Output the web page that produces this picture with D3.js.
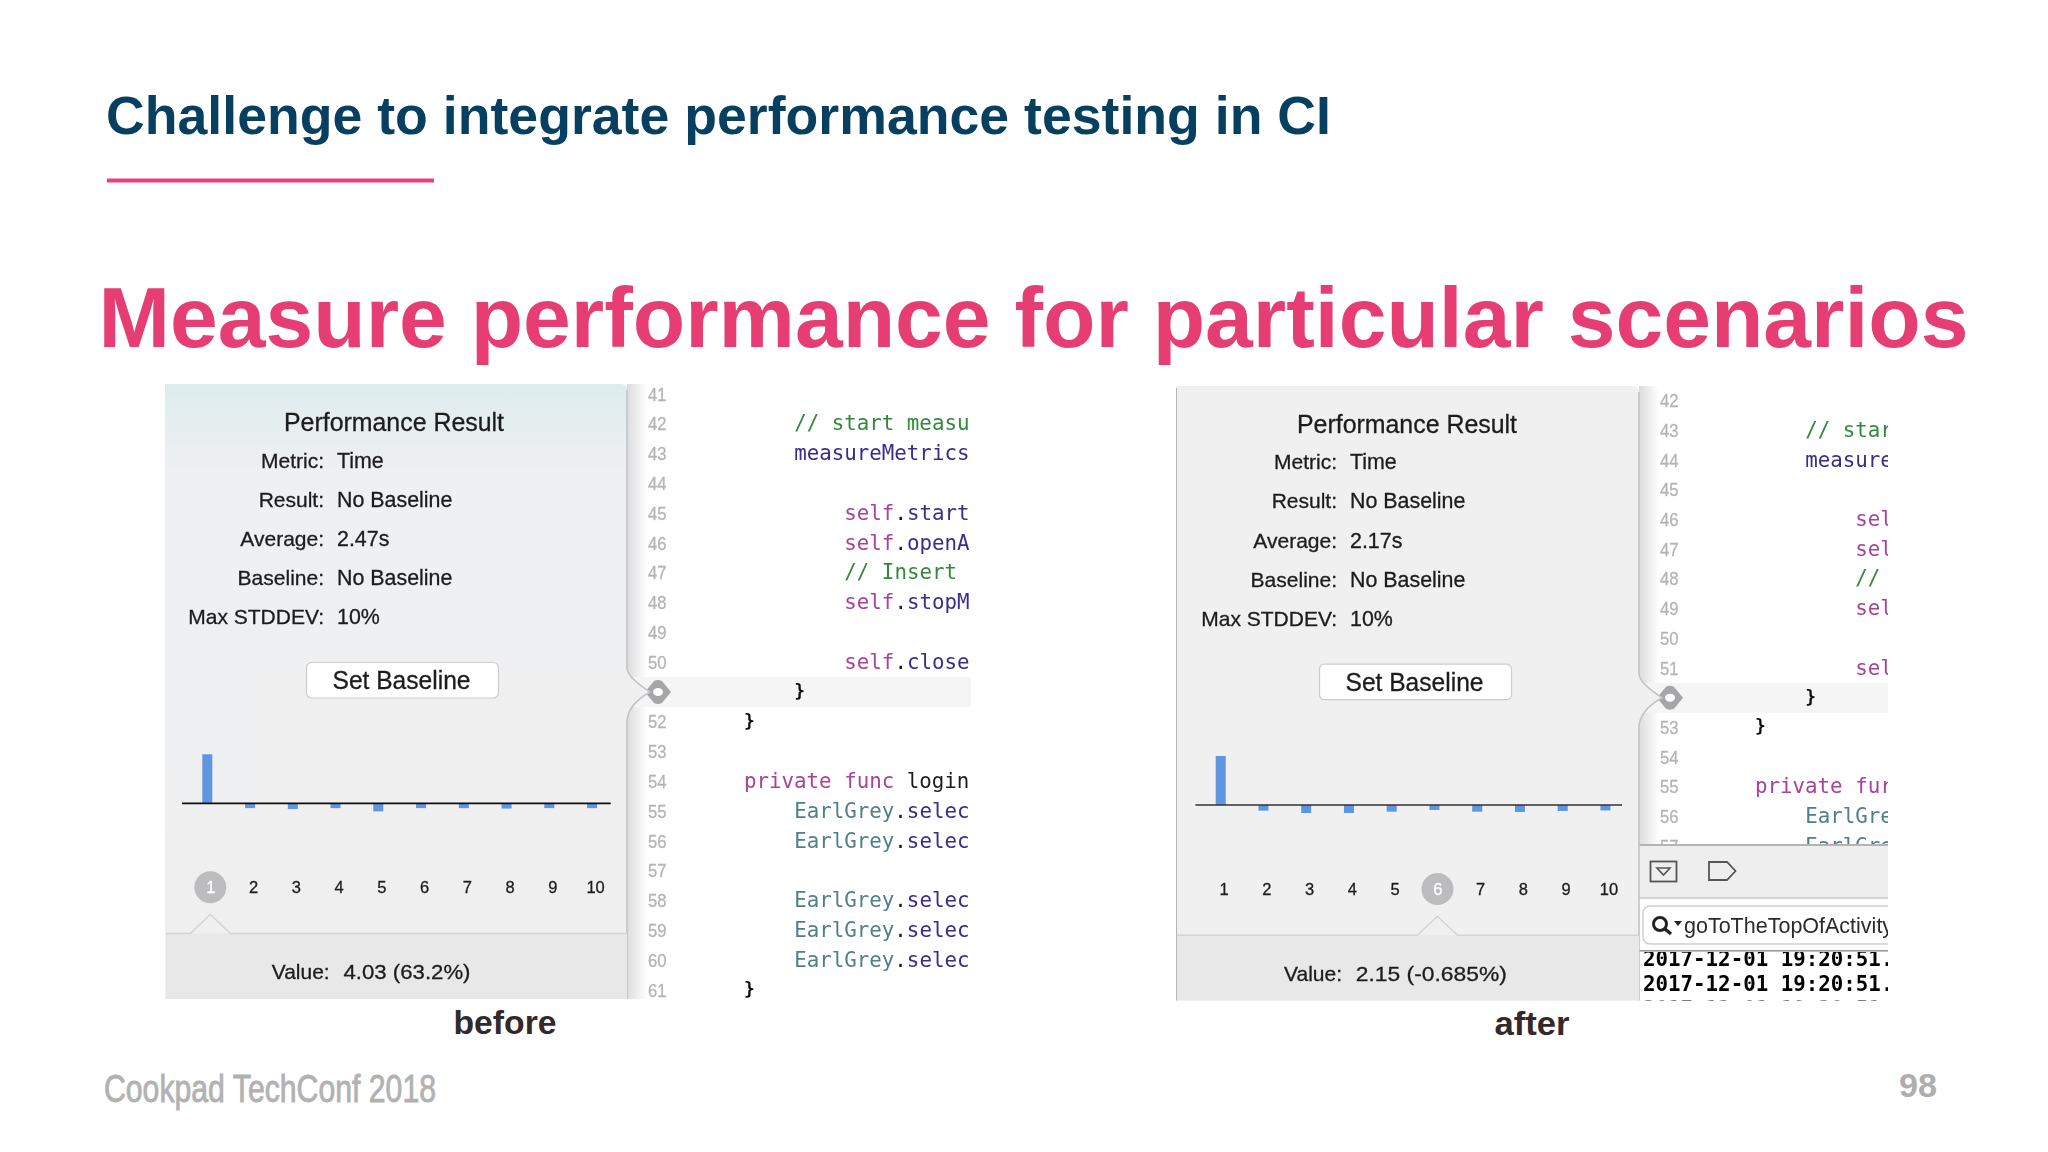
<!DOCTYPE html>
<html><head><meta charset="utf-8">
<script src="https://cdnjs.cloudflare.com/ajax/libs/d3/7.8.5/d3.min.js"></script>
<style>html,body{margin:0;padding:0;background:#fff;overflow:hidden}svg{display:block}</style>
</head><body><svg id="c" width="2048" height="1152" xmlns="http://www.w3.org/2000/svg"></svg>
<script>
// ---- data ----
const iterations = ["1","2","3","4","5","6","7","8","9","10"];
const beforeValues = [63.2,-6.2,-7.4,-6.2,-10.4,-6.2,-6.2,-6.8,-6.2,-6.2];
const afterValues = [6.75,-0.78,-1.1,-1.1,-0.92,-0.685,-0.92,-0.96,-0.82,-0.75];
const fieldLabels = ["Metric:","Result:","Average:","Baseline:","Max STDDEV:"];
const beforeFields = ["Time","No Baseline","2.47s","No Baseline","10%"];
const afterFields = ["Time","No Baseline","2.17s","No Baseline","10%"];
const beforeValueText = "4.03 (63.2%)";
const afterValueText = "2.15 (-0.685%)";
const beforeLineNumbers = d3.range(41,62);
const afterLineNumbers = d3.range(42,58);
const beforeCode = [
 [42,4,[["c","// start measu"]]],[43,4,[["m","measureMetrics"]]],
 [45,8,[["k","self"],["p","."],["m","start"]]],[46,8,[["k","self"],["p","."],["m","openA"]]],
 [47,8,[["c","// Insert"]]],[48,8,[["k","self"],["p","."],["m","stopM"]]],
 [50,8,[["k","self"],["p","."],["m","close"]]],[51,4,[["b","}"]]],[52,0,[["b","}"]]],
 [54,0,[["k","private func"],["p"," login"]]],
 [55,4,[["t","EarlGrey"],["p","."],["m2","selec"]]],[56,4,[["t","EarlGrey"],["p","."],["m2","selec"]]],
 [58,4,[["t","EarlGrey"],["p","."],["m2","selec"]]],[59,4,[["t","EarlGrey"],["p","."],["m2","selec"]]],
 [60,4,[["t","EarlGrey"],["p","."],["m2","selec"]]],[61,0,[["b","}"]]]
];
const afterCode = [
 [43,4,[["c","// star"]]],[44,4,[["m","measure"]]],
 [46,8,[["k","sel"]]],[47,8,[["k","sel"]]],[48,8,[["c","//"]]],[49,8,[["k","sel"]]],[51,8,[["k","sel"]]],
 [52,4,[["b","}"]]],[53,0,[["b","}"]]],[55,0,[["k","private fur"]]],
 [56,4,[["t","EarlGre"]]],[57,4,[["t","EarlGre"]]]
];
const logLines = ["2017-12-01 19:20:51.","2017-12-01 19:20:51.","2017-12-01 19:20:51."];
const searchText = "goToTheTopOfActivity";
const titleText = "Challenge to integrate performance testing in CI";
const headingText = "Measure performance for particular scenarios";
const footerText = "Cookpad TechConf 2018";
const pageNumber = "98";

// ---- drawing ----
const SANS = "'Liberation Sans','Helvetica Neue',Arial,sans-serif";
const MONO = "'DejaVu Sans Mono',monospace";
const tokenColor = {c:"#33893a",m:"#3d2b8f",k:"#a8429a",p:"#1c1c1c",b:"#111",t:"#4f8088",m2:"#3d2b8f"};
const svg = d3.select("#c");
svg.append("rect").attr("width",2048).attr("height",1152).attr("fill","#fff");
const defs = svg.append("defs");

const g1 = defs.append("linearGradient").attr("id","tint").attr("x1",0).attr("x2",0).attr("y1",0).attr("y2",1);
g1.append("stop").attr("offset",0).attr("stop-color","#deecee");
g1.append("stop").attr("offset",0.15).attr("stop-color","#eff0f1");
g1.append("stop").attr("offset",1).attr("stop-color","#efeff0");
const g2 = defs.append("linearGradient").attr("id","shade");
g2.append("stop").attr("offset",0).attr("stop-color","#dcdcde");
g2.append("stop").attr("offset",1).attr("stop-color","#ffffff");
const blur = defs.append("filter").attr("id","soft").attr("x",0).attr("y",0).attr("width",1).attr("height",1);
blur.append("feGaussianBlur").attr("stdDeviation",0.45);

function fit(sel,w){ return sel.attr("textLength",w).attr("lengthAdjust","spacingAndGlyphs"); }

function text(p,x,y,s,size,opts={}){
  const t=p.append("text").attr("x",x).attr("y",y).text(s)
    .attr("font-family",opts.family||SANS).attr("font-size",size)
    .attr("font-weight",opts.weight||"normal").attr("fill",opts.fill||"#1d1d1f")
    .attr("text-anchor",opts.anchor||"start");
  if(opts.w) fit(t,opts.w);
  if(opts.stroke) t.attr("stroke",opts.fill||"#1d1d1f").attr("stroke-width",opts.stroke);
  return t;
}

function drawPanel(cfg){
  const g = svg.append("g").attr("filter","url(#soft)");
  const {L,R,T,B,dx,dy} = cfg;
  const clipId = "clip"+cfg.id;
  defs.append("clipPath").attr("id",clipId).append("rect")
     .attr("x",R).attr("y",T).attr("width",cfg.clipX-R).attr("height",B-T);

  // code pane
  const code = g.append("g").attr("clip-path",`url(#${clipId})`);
  code.append("rect").attr("x",R).attr("y",T).attr("width",20).attr("height",B-T).attr("fill","url(#shade)");
  const rowY = d3.scaleLinear().domain([cfg.firstLine,cfg.firstLine+1]).range([cfg.firstY,cfg.firstY+cfg.rowStep]);
  const cx = d3.scaleLinear().domain([0,1]).range([cfg.col0,cfg.col0+12.54]);
  code.append("rect").attr("x",R+6).attr("y",rowY(cfg.markLine)-15).attr("width",cfg.clipX-R-6).attr("height",30).attr("fill","#f5f5f6");
  code.selectAll("text.num").data(cfg.lineNumbers.filter(n=>n!==cfg.markLine)).join("text").attr("class","num")
     .attr("x",cfg.numX).attr("y",d=>rowY(d)+6.5).text(d=>d)
     .attr("font-family",SANS).attr("font-size",18.5).attr("fill","#b4b4b6")
     .attr("stroke","#b4b4b6").attr("stroke-width",0.3)
     .attr("textLength",18.5).attr("lengthAdjust","spacingAndGlyphs");
  cfg.code.forEach(([ln,ind,toks])=>{
    const isBrace = toks[0][0]==="b";
    const t = code.append("text").attr("x",cx(ind)).attr("y",rowY(ln)+(isBrace?5:6.5))
      .attr("font-family",MONO).attr("font-size",isBrace?18:20.8).attr("xml:space","preserve");
    toks.forEach(([k,s])=>t.append("tspan").attr("fill",tokenColor[k]).attr("font-weight",k==="b"?"bold":"normal").text(s));
  });
  // diamond marker
  const my = rowY(cfg.markLine), mx = cfg.numX+10;
  code.append("path").attr("d",`M${mx-13},${my} L${mx-4},${my-11} Q${mx},${my-13} ${mx+4},${my-11} L${mx+13},${my} L${mx+4},${my+11} Q${mx},${my+13} ${mx-4},${my+11} Z`).attr("fill","#a6a6a8");
  code.append("ellipse").attr("cx",mx).attr("cy",my).attr("rx",5).attr("ry",4).attr("fill","#fff");

  // console (after only)
  if(cfg.console){
    const c = code.append("g");
    c.append("rect").attr("x",R).attr("y",845).attr("width",cfg.clipX-R).attr("height",B-845).attr("fill","#fff");
    c.append("rect").attr("x",R).attr("y",845).attr("width",cfg.clipX-R).attr("height",53).attr("fill","#eeeeef");
    c.selectAll("text.log").data(logLines).join("text").attr("class","log")
      .attr("x",1643).attr("y",(d,i)=>966+i*25.2).text(d=>d)
      .attr("font-family",MONO).attr("font-weight","bold").attr("font-size",20.8).attr("fill","#000");
    c.append("rect").attr("x",R).attr("y",898).attr("width",cfg.clipX-R).attr("height",54).attr("fill","#fdfdfd");
    c.append("rect").attr("x",R).attr("y",950).attr("width",cfg.clipX-R).attr("height",1.6).attr("fill","#9a9a9a");
    c.append("line").attr("x1",R).attr("x2",cfg.clipX).attr("y1",845).attr("y2",845).attr("stroke","#b4b4b4").attr("stroke-width",2);
    c.append("line").attr("x1",R).attr("x2",cfg.clipX).attr("y1",898).attr("y2",898).attr("stroke","#c8c8c8").attr("stroke-width",1.5);
    c.append("rect").attr("x",1650.5).attr("y",861.5).attr("width",26).attr("height",20).attr("fill","none").attr("stroke","#555").attr("stroke-width",1.8);
    c.append("path").attr("d","M1657,868 H1670 L1663.5,875 Z").attr("fill","none").attr("stroke","#555").attr("stroke-width",1.6);
    c.append("path").attr("d","M1709,862 H1727 L1735.5,871 L1727,880 H1709 Z").attr("fill","none").attr("stroke","#555").attr("stroke-width",1.8);
    c.append("rect").attr("x",R+4).attr("y",906).attr("width",300).attr("height",38).attr("rx",7).attr("fill","#fff").attr("stroke","#cfcfcf").attr("stroke-width",1.5);
    c.append("circle").attr("cx",1660).attr("cy",924).attr("r",6.5).attr("fill","none").attr("stroke","#222").attr("stroke-width",3);
    c.append("line").attr("x1",1665).attr("x2",1671).attr("y1",929).attr("y2",934).attr("stroke","#222").attr("stroke-width",3.5);
    c.append("path").attr("d","M1674,921 h8 l-4,5 Z").attr("fill","#222");
    text(c,1684,933,searchText,21.5,{fill:"#2a2a2a"});
  }

  // panel body with notch
  const notchY = my;
  const body = `M${L},${T} H${R-6} Q${R},${T} ${R},${T+6} V${notchY-24} Q${R},${notchY-15} ${R+23},${notchY} Q${R},${notchY+13} ${R},${notchY+30} V${B} H${L} Z`;
  g.append("path").attr("d",body).attr("fill",cfg.tint?"url(#tint)":"#f0f0f1");
  g.append("path").attr("d",`M${R},${T+6} V${notchY-24} Q${R},${notchY-15} ${R+23},${notchY} Q${R},${notchY+13} ${R},${notchY+30} V${B}`)
   .attr("fill","none").attr("stroke","#c4c4c6").attr("stroke-width",1.6);
  if(!cfg.tint) g.append("line").attr("x1",L).attr("x2",L).attr("y1",T+2).attr("y2",B).attr("stroke","#a8a8aa").attr("stroke-width",1.6);

  // header text
  const SW = 0.3;
  text(g,394+dx,431+dy,"Performance Result",25,{anchor:"middle",w:220,stroke:SW});
  const ys=[467.5,506.5,546,585,624];
  fieldLabels.forEach((s,i)=>text(g,324+dx,ys[i]+dy,s,21,{anchor:"end",stroke:SW}));
  cfg.fields.forEach((s,i)=>text(g,337+dx,ys[i]+dy,s,21.4,{stroke:SW}));
  g.append("rect").attr("x",306.5+dx).attr("y",662.5+dy).attr("width",192).attr("height",35.5).attr("rx",5)
    .attr("fill","#fff").attr("stroke","#cdcdcf").attr("stroke-width",1.2);
  text(g,401.5+dx,689+dy,"Set Baseline",25,{anchor:"middle",w:138,stroke:SW});

  // value strip
  const stripY = 934+dy-0.5;
  const bx = d3.scalePoint().domain(iterations).range([207.3+cfg.cdx,207.3+cfg.cdx+9*42.75]);
  const labelOffset = 3;
  const selX = bx(iterations[cfg.selected])+labelOffset;
  g.append("rect").attr("x",L+1).attr("y",stripY).attr("width",R-L-1).attr("height",B-stripY).attr("fill","#e8e8e9");
  g.append("path").attr("d",`M${L+1},${stripY} H${selX-20} L${selX},${stripY-19} L${selX+20},${stripY} H${R}`)
    .attr("fill","#f0f0f1").attr("stroke","#d4d4d6").attr("stroke-width",1.5);
  text(g,271.7+cfg.vdx,979+dy,"Value:",21,{stroke:SW});
  text(g,343.5+cfg.vdx,979+dy,cfg.valueText,21,{w:cfg.valueW,stroke:SW});

  // chart
  const y = d3.scaleLinear().domain([0,cfg.values[0]]).range([cfg.axisY,cfg.axisY-49]);
  g.selectAll("rect.bar").data(cfg.values).join("rect").attr("class","bar")
    .attr("x",(d,i)=>bx(iterations[i])-5)
    .attr("width",10)
    .attr("y",d=>Math.min(y(d),y(0)))
    .attr("height",d=>Math.abs(y(d)-y(0)))
    .attr("fill","#5f96e2");
  g.append("line").attr("x1",182+cfg.cdx).attr("x2",cfg.axisEnd).attr("y1",y(0)).attr("y2",y(0))
    .attr("stroke",cfg.axisColor).attr("stroke-width",1.7);

  // selection circle and axis labels
  const labY = cfg.axisY+84;
  g.append("circle").attr("cx",selX).attr("cy",labY).attr("r",16).attr("fill","#bcbcbe");
  const axis = d3.axisBottom(bx).tickSize(0).tickPadding(0);
  const ag = g.append("g").attr("transform",`translate(${labelOffset},${labY-7.5})`).call(axis);
  ag.select(".domain").remove();
  ag.selectAll("text").attr("font-family",SANS).attr("font-size",16.5).attr("fill",(d,i)=>i===cfg.selected?"#fff":"#1d1d1f")
    .attr("stroke",(d,i)=>i===cfg.selected?"#fff":"#1d1d1f").attr("stroke-width",0.3)
    .attr("dy","0.8em").attr("y",0);
}

// slide chrome
text(svg,106,134,titleText,53,{weight:"bold",fill:"#063f5f",w:1225});
svg.append("rect").attr("x",107).attr("y",178.5).attr("width",327).attr("height",4).attr("fill","#e6427a");
text(svg,98.5,347,headingText,85,{weight:"bold",fill:"#e63e73",w:1870});

drawPanel({id:"a",L:165,R:627,T:384,B:999,dx:0,dy:0,cdx:0,vdx:0,axisY:803.3,axisEnd:610.7,axisColor:"#111",tint:true,clipX:971,
  values:beforeValues,fields:beforeFields,valueText:beforeValueText,valueW:127,selected:0,
  firstLine:41,firstY:394,rowStep:29.8,lineNumbers:beforeLineNumbers,markLine:51,numX:648,col0:744,code:beforeCode});
drawPanel({id:"b",L:1176,R:1639,T:386,B:1000.5,dx:1013,dy:1.7,cdx:1013.4,vdx:1012.3,axisY:805,axisEnd:1622,axisColor:"#333",tint:false,clipX:1888,
  values:afterValues,fields:afterFields,valueText:afterValueText,valueW:151,selected:5,
  firstLine:42,firstY:400.7,rowStep:29.7,lineNumbers:afterLineNumbers,markLine:52,numX:1660,col0:1755,code:afterCode,console:true});

text(svg,505,1034,"before",34,{weight:"bold",fill:"#33292a",anchor:"middle",w:103});
text(svg,1532,1035,"after",34,{weight:"bold",fill:"#33292a",anchor:"middle",w:75});
text(svg,104,1101.5,footerText,39,{fill:"#b2b2b2",w:332,stroke:0.9,family:"'Liberation Sans Narrow','Liberation Sans',sans-serif"});
text(svg,1899,1097,pageNumber,33,{weight:"bold",fill:"#aeaeae",w:38});
</script></body></html>
